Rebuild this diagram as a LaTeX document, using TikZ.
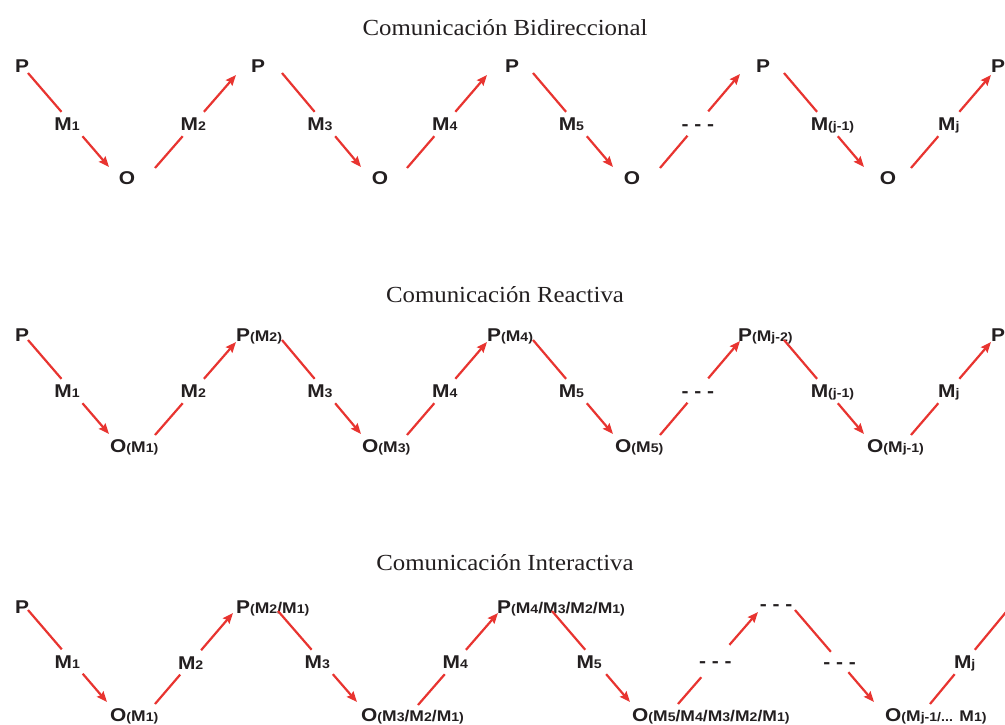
\documentclass[tikz,border=0pt]{standalone}
\usepackage{fontspec}
\setmainfont{Liberation Serif}
\newfontfamily\labfont{Liberation Sans}[FakeStretch=1.13]
\newfontfamily\titlefont{Liberation Serif}[FakeStretch=1.08]
\usetikzlibrary{arrows.meta}

\definecolor{linered}{RGB}{232,52,48}
\definecolor{ink}{RGB}{35,31,32}

% three text sizes used in the labels
\newcommand{\mainl}[1]{{\fontsize{18.5}{19}\selectfont #1}}
\newcommand{\midl}[1]{{\fontsize{15.5}{16}\selectfont #1}}
\newcommand{\subl}[1]{{\fontsize{12.5}{13}\selectfont #1}}

\tikzset{
  msg/.style={font=\labfont\bfseries, text=ink, text height=13.2pt, text depth=0pt,
              inner xsep=2pt, inner ysep=5.4pt, anchor=center},
  vtx/.style={font=\labfont\bfseries, text=ink, text height=13.2pt, text depth=0pt,
              inner sep=0pt},
  seg/.style={draw=linered, line width=2.2pt},
  arr/.style={seg, -{Stealth[length=10.5pt,width=8.5pt,inset=1.5pt]}},
  ttl/.style={font=\titlefont\fontsize{23}{26}\selectfont, text=ink, anchor=base, inner sep=0pt}
}

% message arrow: start, tip, position of the label, label name, label text, label options
\newcommand{\linkmsg}[6]{%
  \path (#1) -- (#2) node[msg, pos=#3, #6] (#4) {#5};
  \draw[seg] (#1) -- (#4);
  \draw[arr] (#4) -- (#2);
}

\begin{document}
\begin{tikzpicture}[x=1pt,y=-1pt]
\useasboundingbox (0,0) rectangle (1005,725);
\fill[white] (0,0) rectangle (1005,725);
\clip (0,0) rectangle (1005,725);

% ---------------- titles ----------------
\node[ttl] (title1) at (505,36) {Comunicación Bidireccional};
\node[ttl] (title2) at (505,302) {Comunicación Reactiva};
\node[ttl] (title3) at (505,570) {Comunicación Interactiva};

% ---------------- bidirectional ----------------
\node[vtx] (p10) at (22,66) {\mainl{P}};
\node[vtx] (p11) at (258,66) {\mainl{P}};
\node[vtx] (p12) at (512,66) {\mainl{P}};
\node[vtx] (p13) at (763,66) {\mainl{P}};
\node[vtx] (p14) at (998,66) {\mainl{P}};
\node[vtx] (o11) at (127,178) {\mainl{O}};
\node[vtx] (o12) at (380,178) {\mainl{O}};
\node[vtx] (o13) at (632,178) {\mainl{O}};
\node[vtx] (o14) at (888,178) {\mainl{O}};

\coordinate (a11) at (28,73);   \coordinate (b11) at (109,167);
\coordinate (a12) at (155,168); \coordinate (b12) at (236,75);
\coordinate (a13) at (282,73);  \coordinate (b13) at (361,167);
\coordinate (a14) at (407,168); \coordinate (b14) at (487,75);
\coordinate (a15) at (533,73);  \coordinate (b15) at (613,167);
\coordinate (a16) at (660,168); \coordinate (b16) at (740,74);
\coordinate (a17) at (784,73);  \coordinate (b17) at (864,167);
\coordinate (a18) at (911,168); \coordinate (b18) at (991,75);

\linkmsg{a11}{b11}{.543}{m11}{\mainl{M}\subl{1}\kern10pt}{}
\linkmsg{a12}{b12}{.473}{m12}{\mainl{M}\subl{2}}{}
\linkmsg{a13}{b13}{.543}{m13}{\mainl{M}\subl{3}\kern10pt}{}
\linkmsg{a14}{b14}{.473}{m14}{\mainl{M}\subl{4}}{}
\linkmsg{a15}{b15}{.543}{m15}{\mainl{M}\subl{5}\kern10pt}{}
\linkmsg{a16}{b16}{.473}{m16}{\mainl{- - -}}{}
\linkmsg{a17}{b17}{.543}{m17}{\kern10pt\mainl{M}\subl{(j-1)}}{}
\linkmsg{a18}{b18}{.473}{m18}{\mainl{M}\subl{j}}{}

% ---------------- reactive ----------------
\node[vtx] (p20) at (22,335) {\mainl{P}};
\node[vtx, anchor=west] (p21) at (236,335) {\mainl{P}\subl{(}\midl{M}\subl{2)}};
\node[vtx, anchor=west] (p22) at (487,335) {\mainl{P}\subl{(}\midl{M}\subl{4)}};
\node[vtx, anchor=west] (p23) at (738,335) {\mainl{P}\subl{(}\midl{M}\subl{j-2)}};
\node[vtx] (p24) at (998,335) {\mainl{P}};
\node[vtx, anchor=west] (o21) at (110,446) {\mainl{O}\subl{(}\midl{M}\subl{1)}};
\node[vtx, anchor=west] (o22) at (362,446) {\mainl{O}\subl{(}\midl{M}\subl{3)}};
\node[vtx, anchor=west] (o23) at (615,446) {\mainl{O}\subl{(}\midl{M}\subl{5)}};
\node[vtx, anchor=west] (o24) at (867,446) {\mainl{O}\subl{(}\midl{M}\subl{j-1)}};

\coordinate (a21) at (28,340);  \coordinate (b21) at (109,434);
\coordinate (a22) at (155,435); \coordinate (b22) at (236,342);
\coordinate (a23) at (282,340); \coordinate (b23) at (361,434);
\coordinate (a24) at (407,435); \coordinate (b24) at (487,342);
\coordinate (a25) at (533,340); \coordinate (b25) at (613,434);
\coordinate (a26) at (660,435); \coordinate (b26) at (740,341);
\coordinate (a27) at (784,340); \coordinate (b27) at (864,434);
\coordinate (a28) at (911,435); \coordinate (b28) at (991,342);

\linkmsg{a21}{b21}{.543}{m21}{\mainl{M}\subl{1}\kern10pt}{}
\linkmsg{a22}{b22}{.473}{m22}{\mainl{M}\subl{2}}{}
\linkmsg{a23}{b23}{.543}{m23}{\mainl{M}\subl{3}\kern10pt}{}
\linkmsg{a24}{b24}{.473}{m24}{\mainl{M}\subl{4}}{}
\linkmsg{a25}{b25}{.543}{m25}{\mainl{M}\subl{5}\kern10pt}{}
\linkmsg{a26}{b26}{.473}{m26}{\mainl{- - -}}{}
\linkmsg{a27}{b27}{.543}{m27}{\kern10pt\mainl{M}\subl{(j-1)}}{}
\linkmsg{a28}{b28}{.473}{m28}{\mainl{M}\subl{j}}{}

% ---------------- interactive ----------------
\node[vtx] (p30) at (22,607) {\mainl{P}};
\node[vtx, anchor=west] (p31) at (236,607)
  {\mainl{P}\subl{(}\midl{M}\subl{2}\midl{/M}\subl{1)}};
\node[vtx, anchor=west] (p32) at (497,607)
  {\mainl{P}\subl{(}\midl{M}\subl{4}\midl{/M}\subl{3}\midl{/M}\subl{2}\midl{/M}\subl{1)}};
\node[vtx] (p33) at (776,604) {\mainl{- - -}};
\node[vtx, anchor=west] (o31) at (110,715) {\mainl{O}\subl{(}\midl{M}\subl{1)}};
\node[vtx, anchor=west] (o32) at (361,715)
  {\mainl{O}\subl{(}\midl{M}\subl{3}\midl{/M}\subl{2}\midl{/M}\subl{1)}};
\node[vtx, anchor=west] (o33) at (632,715)
  {\mainl{O}\subl{(}\midl{M}\subl{5}\midl{/M}\subl{4}\midl{/M}\subl{3}\midl{/M}\subl{2}\midl{/M}\subl{1)}};
\node[vtx, anchor=west] (o34) at (885,715)
  {\mainl{O}\subl{(}\midl{M}\subl{j-1/...}\midl{ M}\subl{1)}};

\coordinate (a31) at (28,610);  \coordinate (b31) at (107,702);
\coordinate (a32) at (155,704); \coordinate (b32) at (233,613);
\coordinate (a33) at (278,611); \coordinate (b33) at (357,702);
\coordinate (a34) at (418,705); \coordinate (b34) at (498,613);
\coordinate (a35) at (552,611); \coordinate (b35) at (630,702);
\coordinate (a36) at (678,704); \coordinate (b36) at (758,612);
\coordinate (a37) at (795,610); \coordinate (b37) at (874,702);
\coordinate (a38) at (930,704); \coordinate (b38) at (1016,600);

\linkmsg{a31}{b31}{.56}{m31}{\mainl{M}\subl{1}\kern10pt}{}
\linkmsg{a32}{b32}{.457}{m32}{\mainl{M}\subl{2}}{}
\linkmsg{a33}{b33}{.56}{m33}{\mainl{M}\subl{3}\kern10pt}{}
\linkmsg{a34}{b34}{.467}{m34}{\mainl{M}\subl{4}}{}
\linkmsg{a35}{b35}{.56}{m35}{\mainl{M}\subl{5}\kern13pt}{}
\linkmsg{a36}{b36}{.467}{m36}{\mainl{- - -}}{inner ysep=9.4pt}
\linkmsg{a37}{b37}{.565}{m37}{\mainl{- - -}}{inner ysep=3.4pt}
\linkmsg{a38}{b38}{.404}{m38}{\mainl{M}\subl{j}}{}
\end{tikzpicture}
\end{document}
